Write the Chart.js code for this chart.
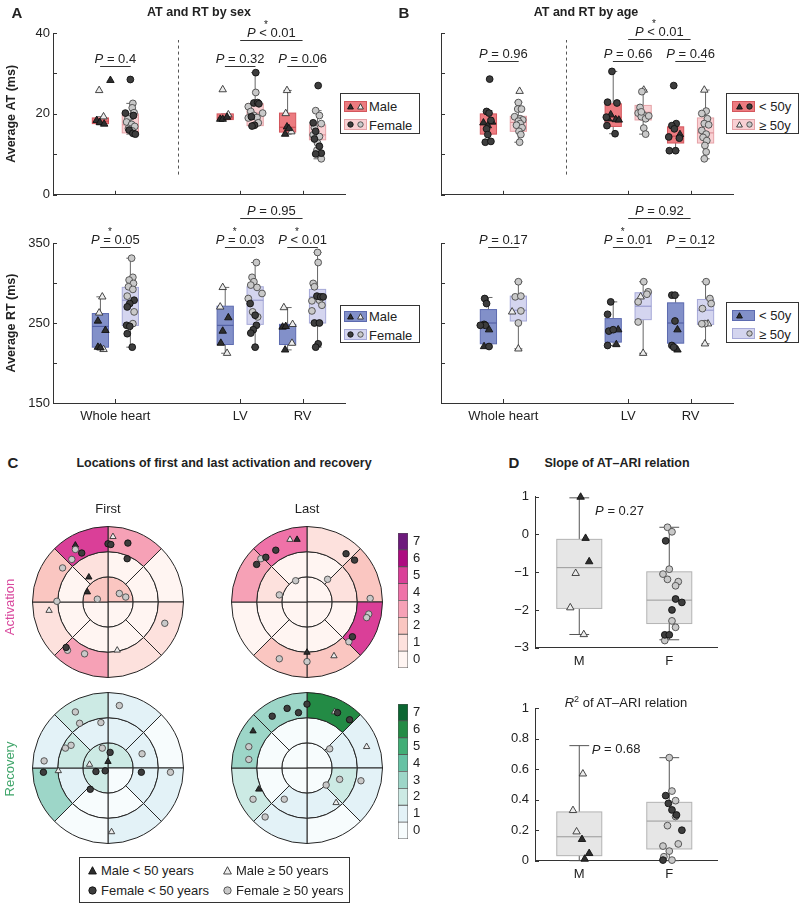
<!DOCTYPE html>
<html><head><meta charset="utf-8"><title>AT and RT</title>
<script src="https://cdn.jsdelivr.net/npm/chart.js@4.4.1/dist/chart.umd.min.js"></script>
<style>
html,body{margin:0;padding:0;background:#fff;}
#root{position:relative;width:799px;height:904px;overflow:hidden;font-family:"Liberation Sans",Arial,Helvetica,sans-serif;color:#222;}
#root canvas{position:absolute;}
.t{position:absolute;white-space:nowrap;transform:translate(-50%,-50%);line-height:1;}
.pl{font-weight:bold;font-size:15px;}
.ti{font-weight:bold;font-size:12.5px;}
.nt{font-size:13px;}
.lg{position:absolute;border:1px solid #333;background:#fff;box-sizing:border-box;}
.lg .sw{position:absolute;box-sizing:border-box;}
.lg svg{position:absolute;}
.lg .tx{position:absolute;font-size:13px;white-space:nowrap;transform:translateY(-50%);line-height:1;}
</style></head><body><div id="root"></div>
<script>
// ---------------- DATA ----------------
const groups = ['Whole heart', 'LV', 'RV'];
const groupPos = [1, 3, 4];
const atTicks = [0, 10, 20, 30, 40];
const atTickLabels = ['0', '', '20', '', '40'];
const rtTicks = [150, 200, 250, 300, 350];
const rtTickLabels = ['150', '', '250', '', '350'];

// box stats per group: [lower whisker, q1, median, q3, upper whisker]
const atSexMaleBox   = [[17.3,17.6,18.2,19.0,19.3],[18.6,18.6,19.0,20.0,20.0],[15.0,15.5,16.7,20.2,25.8]];
const atSexFemaleBox = [[15.0,15.3,17.3,20.0,22.6],[17.0,17.1,20.2,22.5,30.2],[8.9,13.6,14.8,17.3,20.8]];
const rtSexMaleBox   = [[217.0,219.8,245.8,261.8,282.7],[212.2,223.1,247.1,271.0,294.5],[216.4,223.1,247.0,248.3,269.3]];
const rtSexFemaleBox = [[219.8,247.0,278.5,294.5,331.0],[219.8,248.3,278.5,295.3,325.6],[219.8,250.0,282.7,292.0,338.2]];
const atAgeYoungBox  = [[13.0,15.0,17.6,20.0,20.8],[15.1,16.9,19.2,22.5,30.5],[10.9,12.8,14.5,16.8,17.6]];
const atAgeOldBox    = [[13.0,15.7,17.9,19.4,22.9],[15.0,18.5,20.4,22.1,25.9],[8.9,12.8,15.3,19.0,25.9]];
const rtAgeYoungBox  = [[219.8,224.0,250.0,266.8,281.9],[221.9,226.1,241.6,255.5,276.4],[216.4,224.8,250.0,275.2,284.8]];
const rtAgeOldBox    = [[217.7,252.5,266.0,283.6,301.6],[212.2,254.2,271.0,287.8,301.6],[224.0,248.3,266.0,279.4,301.6]];

// individual points [x (group position + jitter), value]; MY = male <50 (filled tri), MO = male >=50 (open tri),
// FY = female <50 (filled circle), FO = female >=50 (open circle)
const atSexMY = [[0.92,28.3],[0.70,18.4],[0.75,17.9],[0.82,17.5],[2.68,18.7],[2.72,18.7],[2.79,19.2],[3.75,16.8],[3.78,16.4],[3.72,15.0]];
const atSexMO = [[0.74,25.8],[0.81,19.3],[2.72,26.0],[2.81,19.8],[3.75,25.8],[3.73,20.1],[3.82,15.6]];
const atSexFY = [[1.24,28.5],[1.16,20.2],[1.29,19.6],[1.22,16.0],[1.28,15.2],[1.32,15.0],[3.25,30.2],[3.22,22.7],[3.28,22.8],[3.30,22.5],[3.18,19.3],[3.23,17.2],[3.19,17.0],[4.25,27.0],[4.17,17.8],[4.21,15.7],[4.19,13.8],[4.27,12.0],[4.30,10.3],[4.21,10.1]];
const atSexFO = [[1.28,22.6],[1.27,21.5],[1.30,20.3],[1.25,19.3],[1.20,18.8],[1.18,18.0],[1.26,17.4],[1.31,16.9],[1.21,16.4],[1.27,15.8],[3.25,25.3],[3.13,21.8],[3.36,20.2],[3.17,20.6],[3.22,19.6],[3.13,19.0],[3.27,19.1],[3.29,17.8],[4.21,20.8],[4.27,19.6],[4.30,17.6],[4.19,16.6],[4.17,14.8],[4.27,14.4],[4.24,12.8],[4.23,11.0],[4.30,8.9]];

const rtSexMY = [[0.72,252.5],[0.84,240.8],[0.72,219.8],[0.76,219.0],[2.81,256.7],[2.72,239.9],[2.69,224.8],[3.68,245.0],[3.73,245.8],[3.72,216.4]];
const rtSexMO = [[0.79,282.7],[0.74,262.6],[0.81,217.0],[2.72,294.5],[2.68,270.1],[2.79,212.2],[3.70,269.3],[3.84,248.3],[3.83,224.8]];
const rtSexFY = [[1.30,278.5],[1.23,274.3],[1.19,270.1],[1.18,247.1],[1.23,245.8],[1.19,236.6],[1.27,219.8],[3.16,274.3],[3.24,259.7],[3.26,247.1],[3.21,241.6],[3.17,237.4],[3.24,219.8],[4.23,283.6],[4.29,282.7],[4.33,282.7],[4.19,250.0],[4.27,250.0],[4.25,224.0],[4.21,219.8]];
const rtSexFO = [[1.26,331.0],[1.28,307.1],[1.22,303.7],[1.29,299.5],[1.21,295.3],[1.28,292.0],[1.19,283.6],[1.30,263.9],[1.28,249.2],[3.26,325.6],[3.19,307.1],[3.22,301.6],[3.17,297.4],[3.27,294.5],[3.35,286.9],[3.13,280.6],[3.20,263.9],[3.28,257.6],[4.24,338.2],[4.25,325.6],[4.17,299.5],[4.19,295.3],[4.15,277.7],[4.27,278.5],[4.31,272.2],[4.15,265.1]];

const atAgeMY = [[0.68,17.8],[0.82,18.0],[0.75,17.1],[2.72,19.8],[2.68,18.8],[2.80,18.6],[2.85,18.5],[3.83,14.9]];
const atAgeMO = [[1.26,25.6],[3.25,25.9],[4.22,25.9]];
const atAgeFY = [[0.78,28.6],[0.73,20.6],[0.77,20.2],[0.80,18.4],[0.73,16.3],[0.75,14.9],[0.71,13.0],[0.80,13.2],[2.74,30.5],[2.67,22.9],[2.82,22.7],[2.65,19.2],[2.66,17.1],[2.79,15.1],[3.73,27.0],[3.77,17.6],[3.70,17.1],[3.74,16.3],[3.65,14.3],[3.82,14.0],[3.66,10.9],[3.76,10.9]];
const atAgeFO = [[1.24,22.8],[1.23,21.2],[1.29,21.2],[1.18,19.3],[1.27,18.8],[1.31,18.5],[1.24,18.2],[1.27,17.6],[1.21,17.2],[1.30,16.6],[1.25,15.7],[1.28,14.9],[1.26,13.0],[3.22,25.5],[3.19,21.6],[3.16,20.2],[3.24,19.8],[3.21,19.3],[3.28,18.8],[3.33,19.5],[3.21,20.5],[3.25,16.5],[3.28,15.0],[4.25,20.7],[4.18,20.1],[4.27,18.8],[4.22,17.6],[4.29,17.3],[4.18,15.9],[4.25,15.0],[4.20,14.2],[4.26,13.4],[4.23,12.2],[4.25,10.6],[4.22,8.9]];

const rtAgeMY = [[0.77,241.6],[0.69,220.6],[2.84,241.6],[2.81,223.1],[3.79,241.6],[3.79,216.4]];
const rtAgeMO = [[1.14,263.9],[1.24,217.7],[3.20,282.7],[3.24,212.2],[4.28,249.0],[4.23,224.0]];
const rtAgeFY = [[0.70,280.6],[0.73,274.3],[0.69,248.3],[0.71,247.1],[0.63,247.1],[0.77,220.6],[2.72,276.4],[2.67,260.9],[2.69,239.9],[2.76,241.6],[2.67,221.9],[3.70,284.8],[3.75,284.8],[3.75,252.5],[3.70,221.9],[3.73,219.8]];
const rtAgeFO = [[1.24,301.6],[1.19,282.7],[1.28,283.6],[1.28,265.1],[1.24,250.0],[3.25,301.6],[3.32,289.0],[3.30,286.0],[3.16,276.4],[3.16,251.3],[4.25,301.6],[4.31,280.6],[4.33,274.3],[4.19,268.0],[4.23,249.2],[4.18,249.0]];

// P values: [operator, value, significant-star] for WH, LV, RV pairs, then LV vs RV
const atSexP = [['=','0.4',0],['=','0.32',0],['=','0.06',0]];
const atSexLvRv = ['<','0.01',1];
const rtSexP = [['=','0.05',1],['=','0.03',1],['<','0.01',1]];
const rtSexLvRv = ['=','0.95',0];
const atAgeP = [['=','0.96',0],['=','0.66',0],['=','0.46',0]];
const atAgeLvRv = ['<','0.01',1];
const rtAgeP = [['=','0.17',0],['=','0.01',1],['=','0.12',0]];
const rtAgeLvRv = ['=','0.92',0];

// Panel D
const dLabels = ['M', 'F'];
const dPos = [1, 2];
const slopeTicks = [-3, -2, -1, 0, 1];
const r2Ticks = [0, 0.2, 0.4, 0.6, 0.8, 1];
const slopeBox = [[-2.65,-1.96,-0.88,-0.13,0.97],[-2.79,-2.36,-1.74,-0.99,0.19]];
const r2Box = [[0.0,0.033,0.157,0.32,0.755],[0.0,0.077,0.26,0.383,0.676]];
const slopeMY = [[1.015,0.99],[1.07,-0.10],[1.11,-0.72]];
const slopeMO = [[0.96,-1.03],[0.90,-1.94],[1.05,-2.65]];
const slopeFY = [[1.96,-0.17],[2.07,-1.71],[2.14,-1.80],[2.03,-2.00],[1.95,-2.66],[2.00,-2.66]];
const slopeFO = [[1.98,0.19],[2.03,0.07],[2.00,-0.92],[1.93,-1.05],[1.98,-1.19],[2.10,-1.25],[2.07,-1.36],[2.03,-2.29],[2.07,-2.46],[1.95,-2.81]];
const r2MY = [[1.03,0.14],[1.11,0.048],[1.06,0.011]];
const r2MO = [[1.04,0.57],[0.93,0.33],[0.97,0.19]];
const r2FY = [[1.96,0.427],[1.99,0.376],[2.03,0.333],[2.08,0.30],[2.14,0.20],[1.93,0.004]];
const r2FO = [[2.00,0.676],[2.03,0.457],[2.07,0.394],[2.07,0.29],[1.98,0.23],[2.10,0.11],[1.93,0.096],[2.00,0.063],[1.94,0.026],[2.03,0.004]];
const slopeP = ['=','0.27'];
const r2P = ['=','0.68'];

// Panel C: bullseye segment sizes and counts (outer 8, middle 8 clockwise from 12 o'clock; inner 4 quadrants)
const outerSeg = [1,1,1,1,1,1,1,1];
const middleSeg = [1,1,1,1,1,1,1,1];
const innerSeg = [1,1,1,1];
const actFirstCounts = [[3,0,1,1,3,1,2,5],[0,0,0,0,0,0,0,1],[2,0,0,2]];
const actLastCounts  = [[1,2,5,2,2,0,3,4],[0,1,0,0,0,0,1,0],[0,0,0,0]];
const recFirstCounts = [[1,0,1,1,0,3,1,2],[1,1,1,0,0,1,2,1],[2,0,2,2]];
const recLastCounts  = [[6,1,1,0,1,2,3,3],[0,1,2,1,1,0,0,0],[0,0,0,0]];
const cbLevels = [0,1,2,3,4,5,6,7];
const cbLabels = ['0','1','2','3','4','5','6','7'];
const actColors = ['#fff5f2','#fde1dd','#fac6c1','#f6a1b6','#ef72a8','#da3f98','#ad0b80','#6d1a7c'];
const recColors = ['#f7fcfd','#e3f2f7','#cceae4','#9dd6c8','#66c2a4','#41ae76','#238b45','#0b6632'];

// bullseye marker positions (x, y in units of outer radius)
const actFirstMY = [[-0.46,0.80],[-0.27,0.35],[-0.29,0.14]];
const actFirstMO = [[0.07,0.92],[-0.83,-0.12],[0.13,-0.68]];
const actFirstFY = [[0.0,0.82],[0.04,0.81],[0.28,0.83],[-0.37,0.69],[0.27,0.61],[-0.59,-0.64]];
const actFirstFO = [[-0.46,0.74],[-0.51,0.60],[-0.64,0.48],[-0.72,0.01],[-0.15,0.04],[0.16,0.12],[0.25,0.07],[0.80,-0.30],[-0.57,-0.68],[-0.33,-0.73]];
const actLastMY = [[-0.14,0.88],[0.0,-0.71]];
const actLastMO = [[-0.24,0.88],[0.38,-0.76]];
const actLastFY = [[-0.44,0.73],[-0.58,0.63],[-0.71,0.53],[0.55,0.68],[0.67,0.59],[0.64,-0.49]];
const actLastFO = [[-0.65,0.61],[-0.16,0.30],[0.29,0.32],[-0.39,0.10],[0.89,0.05],[0.87,-0.17],[0.84,-0.22],[0.59,-0.56],[-0.39,-0.80],[0.0,-0.84]];
const recFirstMY = [[0.0,0.09]];
const recFirstMO = [[-0.26,0.05],[-0.70,-0.04],[0.05,-0.90]];
const recFirstFY = [[0.03,0.22],[-0.91,-0.06],[-0.17,-0.05],[-0.04,-0.04],[-0.25,-0.30],[0.47,-0.06]];
const recFirstFO = [[0.16,0.88],[-0.46,0.79],[-0.40,0.63],[-0.10,0.64],[-0.60,0.28],[-0.52,0.32],[-0.08,0.28],[-0.90,0.10],[0.48,0.20],[0.88,-0.06]];
const recLastMY = [[-0.76,0.52],[-0.68,-0.30]];
const recLastMO = [[0.39,0.79],[0.84,0.30],[0.41,-0.49]];
const recLastFY = [[-0.49,0.73],[-0.28,0.84],[-0.12,0.78],[0.0,0.90],[0.43,0.78],[0.60,0.68]];
const recLastFO = [[-0.82,0.30],[-0.82,0.12],[-0.76,-0.44],[-0.59,-0.69],[-0.32,-0.44],[0.32,0.27],[0.46,-0.16],[0.27,-0.24],[0.76,-0.18]];

// ---------------- RENDER ----------------
const FONT = '"Liberation Sans", Arial, Helvetica, sans-serif';
Chart.defaults.font.family = FONT;
Chart.defaults.color = '#222';
const root = document.getElementById('root');
const extras = {};

function addCanvas(id, l, t, w, h) {
  const c = document.createElement('canvas');
  c.id = id; c.width = w; c.height = h;
  c.style.left = l + 'px'; c.style.top = t + 'px';
  c.style.width = w + 'px'; c.style.height = h + 'px';
  root.appendChild(c);
  return c;
}
function addText(html, x, y, cls, extra) {
  const d = document.createElement('div');
  d.className = 't ' + (cls || '');
  d.innerHTML = html;
  d.style.left = x + 'px'; d.style.top = y + 'px';
  if (extra) d.style.cssText += extra;
  root.appendChild(d);
  return d;
}
function seg(ctx, x0, y0, x1, y1) { ctx.beginPath(); ctx.moveTo(x0, y0); ctx.lineTo(x1, y1); ctx.stroke(); }
function drawP(ctx, cx, cy, op, val, star) {
  const F = '13px ' + FONT, FI = 'italic 13px ' + FONT;
  ctx.font = FI; const wP = ctx.measureText('P').width;
  ctx.font = F; const wS = ctx.measureText(' ').width, wO = ctx.measureText(op).width, wV = ctx.measureText(val).width;
  let x = cx - (wP + 2 * wS + wO + wV) / 2;
  ctx.fillStyle = '#222'; ctx.textBaseline = 'middle'; ctx.textAlign = 'left';
  ctx.font = FI; ctx.fillText('P', x, cy); x += wP + wS;
  ctx.font = F; ctx.fillText(op, x, cy);
  const opEnd = x + wO; x = opEnd + wS;
  ctx.fillText(val, x, cy);
  if (star) { ctx.font = '10px ' + FONT; ctx.textAlign = 'center'; ctx.fillText('*', opEnd - 1, cy - 8); }
}

const decor = {
  id: 'decor',
  beforeDatasetsDraw(chart) {
    const e = extras[chart.canvas.id]; if (!e) return;
    const ctx = chart.ctx, xs = chart.scales.x, ys = chart.scales.y, ca = chart.chartArea;
    ctx.save(); ctx.lineWidth = 1; ctx.strokeStyle = '#333';
    (e.xt || []).forEach(v => { const p = Math.round(xs.getPixelForValue(v)) + 0.5; seg(ctx, p, ca.bottom, p, ca.bottom - 4); });
    (e.yt || []).forEach(v => { const p = Math.round(ys.getPixelForValue(v)) + 0.5; seg(ctx, ca.left, p, ca.left + 4, p); });
    if (e.dash) {
      ctx.setLineDash([3, 3]); ctx.strokeStyle = '#555';
      const p = Math.round(xs.getPixelForValue(e.dash[0])) + 0.5;
      seg(ctx, p, ys.getPixelForValue(e.dash[1]), p, ys.getPixelForValue(e.dash[2]));
      ctx.setLineDash([]);
    }
    (e.boxes || []).forEach(b => {
      const xc = xs.getPixelForValue(b.x);
      const hw = xs.getPixelForValue(b.x + b.w / 2) - xc;
      const cw = xs.getPixelForValue(b.x + b.cap / 2) - xc;
      const [lo, q1, md, q3, hi] = b.v.map(v => ys.getPixelForValue(v));
      ctx.strokeStyle = b.wc;
      seg(ctx, xc, q3, xc, hi); seg(ctx, xc, q1, xc, lo);
      seg(ctx, xc - cw, hi, xc + cw, hi); seg(ctx, xc - cw, lo, xc + cw, lo);
      ctx.fillStyle = b.fill; ctx.fillRect(xc - hw, q3, 2 * hw, q1 - q3);
      ctx.strokeStyle = b.stroke; ctx.strokeRect(xc - hw, q3, 2 * hw, q1 - q3);
      ctx.strokeStyle = b.mc; seg(ctx, xc - hw, md, xc + hw, md);
    });
    ctx.restore();
  },
  afterDraw(chart) {
    const e = extras[chart.canvas.id]; if (!e) return;
    const ctx = chart.ctx, xs = chart.scales.x, ys = chart.scales.y;
    ctx.save(); ctx.lineWidth = 1; ctx.strokeStyle = '#333';
    (e.br || []).forEach(b => {
      const x0 = xs.getPixelForValue(b.x0), x1 = xs.getPixelForValue(b.x1), y = Math.round(ys.getPixelForValue(b.y)) + 0.5;
      seg(ctx, x0, y, x1, y);
      drawP(ctx, (x0 + x1) / 2, y - 7, b.op, b.val, b.star);
    });
    (e.txt || []).forEach(t => drawP(ctx, xs.getPixelForValue(t.x), ys.getPixelForValue(t.y), t.op, t.val, false));
    ctx.restore();
  }
};

const MS = {
  my: { pointStyle: 'triangle', pointBackgroundColor: '#2e2e2e', pointBorderColor: '#111', pointRadius: 4.3 },
  mo: { pointStyle: 'triangle', pointBackgroundColor: '#ececec', pointBorderColor: '#333', pointRadius: 4.3 },
  fy: { pointStyle: 'circle', pointBackgroundColor: '#3d3d3d', pointBorderColor: '#111', pointRadius: 3.4 },
  fo: { pointStyle: 'circle', pointBackgroundColor: '#c9c9c9', pointBorderColor: '#4a4a4a', pointRadius: 3.4 }
};
function pts(arr, k, scale) {
  const s = Object.assign({}, MS[k]);
  if (scale) s.pointRadius *= scale;
  return Object.assign({ data: arr.map(p => ({ x: p[0], y: p[1] })), clip: false, pointBorderWidth: 0.9, pointHoverRadius: 0, showLine: false }, s);
}

function boxChart(id, l, t, w, h, o) {
  const cv = addCanvas(id, l, t, w, h);
  extras[id] = o.extras;
  return new Chart(cv, {
    type: 'scatter',
    data: { datasets: o.datasets },
    options: {
      responsive: false, animation: false, devicePixelRatio: 1, events: [],
      layout: { padding: { left: 0, top: o.ca[2], right: w - o.ca[1], bottom: 0 } },
      plugins: { legend: { display: false }, tooltip: { enabled: false } },
      scales: {
        x: {
          type: 'linear', min: o.x[0], max: o.x[1],
          grid: { display: false, drawTicks: false }, border: { display: true, color: '#333', width: 1 },
          ticks: { display: !!o.xLabels, autoSkip: false, maxRotation: 0, padding: o.xpad || 6, font: { size: 13 }, color: '#222',
                   callback: (v, i) => o.xLabels ? o.xLabels[i] : '' },
          afterBuildTicks: a => { a.ticks = o.xPos.map(v => ({ value: v })); },
          afterFit: s => { s.height = h - o.ca[3]; s.paddingLeft = 0; s.paddingRight = 0; }
        },
        y: {
          type: 'linear', min: o.y[0], max: o.y[1],
          grid: { display: false, drawTicks: false }, border: { display: true, color: '#333', width: 1 },
          ticks: { display: !!o.yLabels, autoSkip: false, padding: o.ypad || 4, font: { size: 13 }, color: '#222',
                   callback: (v, i) => o.yLabels ? o.yLabels[i] : '' },
          title: o.yTitle ? { display: true, text: o.yTitle, font: { size: 12.5, weight: 'bold' }, color: '#222', padding: { top: 4, bottom: 0 } } : { display: false },
          afterBuildTicks: a => { a.ticks = o.yPos.map(v => ({ value: v })); },
          afterFit: s => { s.width = o.ca[0]; s.paddingTop = 0; s.paddingBottom = 0; }
        }
      }
    },
    plugins: [decor]
  });
}

const styATm = { fill: '#ec7b80', stroke: '#d4575d', mc: '#c4444b', wc: '#666' };
const styATf = { fill: '#f8d0d3', stroke: '#e6a2a7', mc: '#d98a91', wc: '#666' };
const styRTm = { fill: '#8290c9', stroke: '#5d6bb0', mc: '#4a579e', wc: '#666' };
const styRTf = { fill: '#d4d5ef', stroke: '#a6a9d8', mc: '#8e92ca', wc: '#666' };
const styD = { fill: '#e6e6e6', stroke: '#b3b3b3', mc: '#9a9a9a', wc: '#555' };

function boxesFor(aBox, bBox, sa, sb) {
  const out = [];
  groupPos.forEach((p, i) => {
    out.push(Object.assign({ x: p - 0.24, w: 0.26, cap: 0.13, v: aBox[i] }, sa));
    out.push(Object.assign({ x: p + 0.24, w: 0.26, cap: 0.13, v: bBox[i] }, sb));
  });
  return out;
}
function bracketsFor(pairP, longP, yPair, yLong) {
  const br = groupPos.map((p, i) => ({ x0: p - 0.245, x1: p + 0.245, y: yPair, op: pairP[i][0], val: pairP[i][1], star: pairP[i][2] }));
  br.push({ x0: groupPos[1], x1: groupPos[2], y: yLong, op: longP[0], val: longP[1], star: longP[2] });
  return br;
}
function groupSets(MY, MO, FY, FO) { return [pts(FY, 'fy'), pts(FO, 'fo'), pts(MY, 'my'), pts(MO, 'mo')]; }

// Panel A top: AT by sex
boxChart('aTop', 0, 0, 360, 200, {
  ca: [53, 345, 33, 195], x: [0, 4.68], y: [0, 40], xPos: groupPos, yPos: atTicks, yLabels: atTickLabels, ypad: 3,
  yTitle: 'Average AT (ms)',
  datasets: groupSets(atSexMY, atSexMO, atSexFY, atSexFO),
  extras: { xt: groupPos, yt: atTicks, dash: [2, 5.0, 38.3], boxes: boxesFor(atSexMaleBox, atSexFemaleBox, styATm, styATf),
            br: bracketsFor(atSexP, atSexLvRv, 31.8, 38.3) }
});
// Panel A bottom: RT by sex
boxChart('aBot', 0, 200, 360, 230, {
  ca: [53, 345, 43, 203], x: [0, 4.68], y: [150, 350], xPos: groupPos, xLabels: groups, yPos: rtTicks, yLabels: rtTickLabels, ypad: 3,
  yTitle: 'Average RT (ms)',
  datasets: groupSets(rtSexMY, rtSexMO, rtSexFY, rtSexFO),
  extras: { xt: groupPos, yt: rtTicks, boxes: boxesFor(rtSexMaleBox, rtSexFemaleBox, styRTm, styRTf),
            br: bracketsFor(rtSexP, rtSexLvRv, 345, 381.5) }
});
// Panel B top: AT by age
boxChart('bTop', 400, 0, 340, 200, {
  ca: [41, 333, 33, 195], x: [0, 4.68], y: [0, 40], xPos: groupPos, yPos: atTicks,
  datasets: groupSets(atAgeMY, atAgeMO, atAgeFY, atAgeFO),
  extras: { xt: groupPos, yt: atTicks, dash: [2, 5.0, 38.3], boxes: boxesFor(atAgeYoungBox, atAgeOldBox, styATm, styATf),
            br: bracketsFor(atAgeP, atAgeLvRv, 33.0, 38.5) }
});
// Panel B bottom: RT by age
boxChart('bBot', 400, 200, 340, 230, {
  ca: [41, 333, 43, 203], x: [0, 4.68], y: [150, 350], xPos: groupPos, xLabels: groups, yPos: rtTicks,
  datasets: groupSets(rtAgeMY, rtAgeMO, rtAgeFY, rtAgeFO),
  extras: { xt: groupPos, yt: rtTicks, boxes: boxesFor(rtAgeYoungBox, rtAgeOldBox, styRTm, styRTf),
            br: bracketsFor(rtAgeP, rtAgeLvRv, 345, 381.5) }
});

function dBoxes(bx) { return dPos.map((p, i) => Object.assign({ x: p, w: 0.5, cap: 0.22, v: bx[i] }, styD)); }
// Panel D top: slope
boxChart('dTop', 490, 480, 240, 195, {
  ca: [45, 227.7, 16.7, 167.7], x: [0.508, 2.538], y: [-3, 1], xPos: dPos, xLabels: dLabels, yPos: slopeTicks,
  yLabels: slopeTicks.map(v => String(v).replace('-', '\u2212')), ypad: 6, xpad: 6,
  datasets: groupSets(slopeMY, slopeMO, slopeFY, slopeFO),
  extras: { yt: slopeTicks, boxes: dBoxes(slopeBox), txt: [{ x: 1.447, y: 0.6, op: slopeP[0], val: slopeP[1] }] }
});
// Panel D bottom: R2
boxChart('dBot', 490, 690, 240, 200, {
  ca: [45, 227.7, 18.3, 170.7], x: [0.508, 2.538], y: [0, 1], xPos: dPos, xLabels: dLabels, yPos: r2Ticks,
  yLabels: r2Ticks.map(v => String(v)), ypad: 6, xpad: 6,
  datasets: groupSets(r2MY, r2MO, r2FY, r2FO),
  extras: { yt: r2Ticks, boxes: dBoxes(r2Box), txt: [{ x: 1.41, y: 0.727, op: r2P[0], val: r2P[1] }] }
});

// Panel C: bullseyes
function bullseye(id, l, t, counts, cmap) {
  const cv = addCanvas(id, l, t, 152, 152);
  const base = { borderColor: '#262626', borderWidth: 1, hoverBorderWidth: 1, hoverOffset: 0, offset: 0, borderAlign: 'center' };
  new Chart(cv, {
    type: 'doughnut',
    data: { labels: ['s1','s2','s3','s4','s5','s6','s7','s8'], datasets: [
      Object.assign({ data: outerSeg, backgroundColor: counts[0].map(c => cmap[c]) }, base),
      Object.assign({ data: middleSeg, backgroundColor: counts[1].map(c => cmap[c]) }, base),
      Object.assign({ data: innerSeg, backgroundColor: counts[2].map(c => cmap[c]) }, base)
    ] },
    options: { responsive: false, animation: false, devicePixelRatio: 1, events: [], cutout: 0, rotation: 0, circumference: 360,
      layout: { padding: 0 }, plugins: { legend: { display: false }, tooltip: { enabled: false } } }
  });
}
function bullPts(id, l, t, MY, MO, FY, FO) {
  const R = 76 / 75.5;
  new Chart(addCanvas(id, l, t, 152, 152), {
    type: 'scatter',
    data: { datasets: [pts(FY, 'fy', 0.95), pts(FO, 'fo', 0.95), pts(MY, 'my', 0.85), pts(MO, 'mo', 0.85)] },
    options: { responsive: false, animation: false, devicePixelRatio: 1, events: [], layout: { padding: 0 },
      plugins: { legend: { display: false }, tooltip: { enabled: false } },
      scales: { x: { display: false, min: -R, max: R }, y: { display: false, min: -R, max: R } } }
  });
}
function colorbar(id, l, t, cmap) {
  new Chart(addCanvas(id, l, t, 40, 145), {
    type: 'bar',
    data: { labels: [''], datasets: cbLevels.map(lv => ({ data: [1], backgroundColor: cmap[lv], borderColor: '#555', borderWidth: 0.8,
      borderSkipped: false, categoryPercentage: 1, barPercentage: 1 })) },
    options: { responsive: false, animation: false, devicePixelRatio: 1, events: [],
      layout: { padding: { left: 8, top: 5, bottom: 5, right: 0 } },
      plugins: { legend: { display: false }, tooltip: { enabled: false } },
      scales: {
        x: { display: false, stacked: true },
        y: { stacked: true, position: 'right', min: 0, max: 8, grid: { display: false, drawTicks: false }, border: { display: false },
             ticks: { padding: 5, font: { size: 13 }, color: '#222', autoSkip: false, callback: (v, i) => cbLabels[i] },
             afterBuildTicks: a => { a.ticks = cbLevels.map(v => ({ value: v + 0.5 })); },
             afterFit: s => { s.width = 22; s.paddingTop = 0; s.paddingBottom = 0; } }
      } }
  });
}
bullseye('bAF', 32, 526, actFirstCounts, actColors);
bullPts('pAF', 32, 526, actFirstMY, actFirstMO, actFirstFY, actFirstFO);
bullseye('bAL', 231, 526, actLastCounts, actColors);
bullPts('pAL', 231, 526, actLastMY, actLastMO, actLastFY, actLastFO);
bullseye('bRF', 32, 692, recFirstCounts, recColors);
bullPts('pRF', 32, 692, recFirstMY, recFirstMO, recFirstFY, recFirstFO);
bullseye('bRL', 231, 692, recLastCounts, recColors);
bullPts('pRL', 231, 692, recLastMY, recLastMO, recLastFY, recLastFO);
colorbar('cbA', 390, 528, actColors);
colorbar('cbR', 390, 699, recColors);

// ---------------- TEXT & LEGENDS ----------------
addText('A', 17, 12, 'pl');
addText('AT and RT by sex', 199, 12, 'ti');
addText('B', 404, 12, 'pl');
addText('AT and RT by age', 586, 12, 'ti');
addText('C', 13, 462, 'pl');
addText('Locations of first and last activation and recovery', 224, 463, 'ti');
addText('D', 514, 462, 'pl');
addText('Slope of AT\u2013ARI relation', 617, 463, 'ti');
addText('<i>R</i><sup style="font-size:9px;vertical-align:5px;">2</sup> of AT\u2013ARI relation', 626, 702, 'nt');
addText('First', 108, 508, 'nt');
addText('Last', 307, 508, 'nt');
addText('Activation', 9, 607, 'nt', 'transform:translate(-50%,-50%) rotate(-90deg);color:#d9489d;');
addText('Recovery', 9, 769, 'nt', 'transform:translate(-50%,-50%) rotate(-90deg);color:#3fa56a;');

function svgMark(k, cx, cy, s) {
  s = s || 9; const h = s / 2;
  const st = 'left:' + (cx - h) + 'px;top:' + (cy - h) + 'px;';
  let inner;
  if (k === 'my') inner = '<polygon points="' + h + ',0.7 ' + (s - 0.6) + ',' + (s - 1) + ' 0.6,' + (s - 1) + '" fill="#2e2e2e" stroke="#111" stroke-width="0.9"/>';
  else if (k === 'mo') inner = '<polygon points="' + h + ',0.7 ' + (s - 0.6) + ',' + (s - 1) + ' 0.6,' + (s - 1) + '" fill="#ececec" stroke="#333" stroke-width="0.9"/>';
  else if (k === 'fy') inner = '<circle cx="' + h + '" cy="' + h + '" r="' + (h - 0.8) + '" fill="#3d3d3d" stroke="#111" stroke-width="0.9"/>';
  else inner = '<circle cx="' + h + '" cy="' + h + '" r="' + (h - 0.8) + '" fill="#c9c9c9" stroke="#4a4a4a" stroke-width="0.9"/>';
  return '<svg style="' + st + '" width="' + s + '" height="' + s + '">' + inner + '</svg>';
}
function legendBox(l, t, w, h, rows) {
  const d = document.createElement('div');
  d.className = 'lg';
  d.style.cssText = 'left:' + l + 'px;top:' + t + 'px;width:' + w + 'px;height:' + h + 'px;';
  let html = '';
  rows.forEach(r => {
    if (r.sw) html += '<div class="sw" style="left:' + r.sw[0] + 'px;top:' + (r.y - 5.5) + 'px;width:' + r.sw[1] + 'px;height:11px;background:' + r.sw[2] + ';border:1px solid ' + r.sw[3] + ';"></div>';
    r.marks.forEach(m => { html += svgMark(m[0], m[1], r.y, r.ms); });
    html += '<div class="tx" style="left:' + r.tx + 'px;top:' + r.y + 'px;">' + r.label + '</div>';
  });
  d.innerHTML = html;
  root.appendChild(d);
}
legendBox(340, 93, 80, 41, [
  { y: 12, ms: 7, sw: [3, 23, styATm.fill, styATm.stroke], marks: [['my', 9.5], ['mo', 19.5]], tx: 28, label: 'Male' },
  { y: 30.5, ms: 7, sw: [3, 23, styATf.fill, styATf.stroke], marks: [['fy', 9.5], ['fo', 19.5]], tx: 28, label: 'Female' }
]);
legendBox(340, 305, 80, 38, [
  { y: 10, ms: 7, sw: [3, 23, styRTm.fill, styRTm.stroke], marks: [['my', 9.5], ['mo', 19.5]], tx: 28, label: 'Male' },
  { y: 28.5, ms: 7, sw: [3, 23, styRTf.fill, styRTf.stroke], marks: [['fy', 9.5], ['fo', 19.5]], tx: 28, label: 'Female' }
]);
legendBox(726, 93, 73, 41, [
  { y: 12, ms: 7, sw: [5, 23, styATm.fill, styATm.stroke], marks: [['my', 12], ['fy', 22]], tx: 32, label: '&lt; 50y' },
  { y: 30.5, ms: 7, sw: [5, 23, styATf.fill, styATf.stroke], marks: [['mo', 12], ['fo', 22]], tx: 32, label: '\u2265 50y' }
]);
legendBox(726, 302, 73, 41, [
  { y: 12, ms: 7, sw: [5, 23, styRTm.fill, styRTm.stroke], marks: [['my', 12]], tx: 32, label: '&lt; 50y' },
  { y: 30.5, ms: 7, sw: [5, 23, styRTf.fill, styRTf.stroke], marks: [['fo', 22]], tx: 32, label: '\u2265 50y' }
]);
legendBox(79, 857, 271, 46, [
  { y: 12, ms: 9, marks: [['my', 12]], tx: 21, label: 'Male &lt; 50 years' },
  { y: 12, ms: 9, marks: [['mo', 147]], tx: 156, label: 'Male \u2265 50 years' },
  { y: 32, ms: 9, marks: [['fy', 12]], tx: 21, label: 'Female &lt; 50 years' },
  { y: 32, ms: 9, marks: [['fo', 147]], tx: 156, label: 'Female \u2265 50 years' }
]);
</script></body></html>
